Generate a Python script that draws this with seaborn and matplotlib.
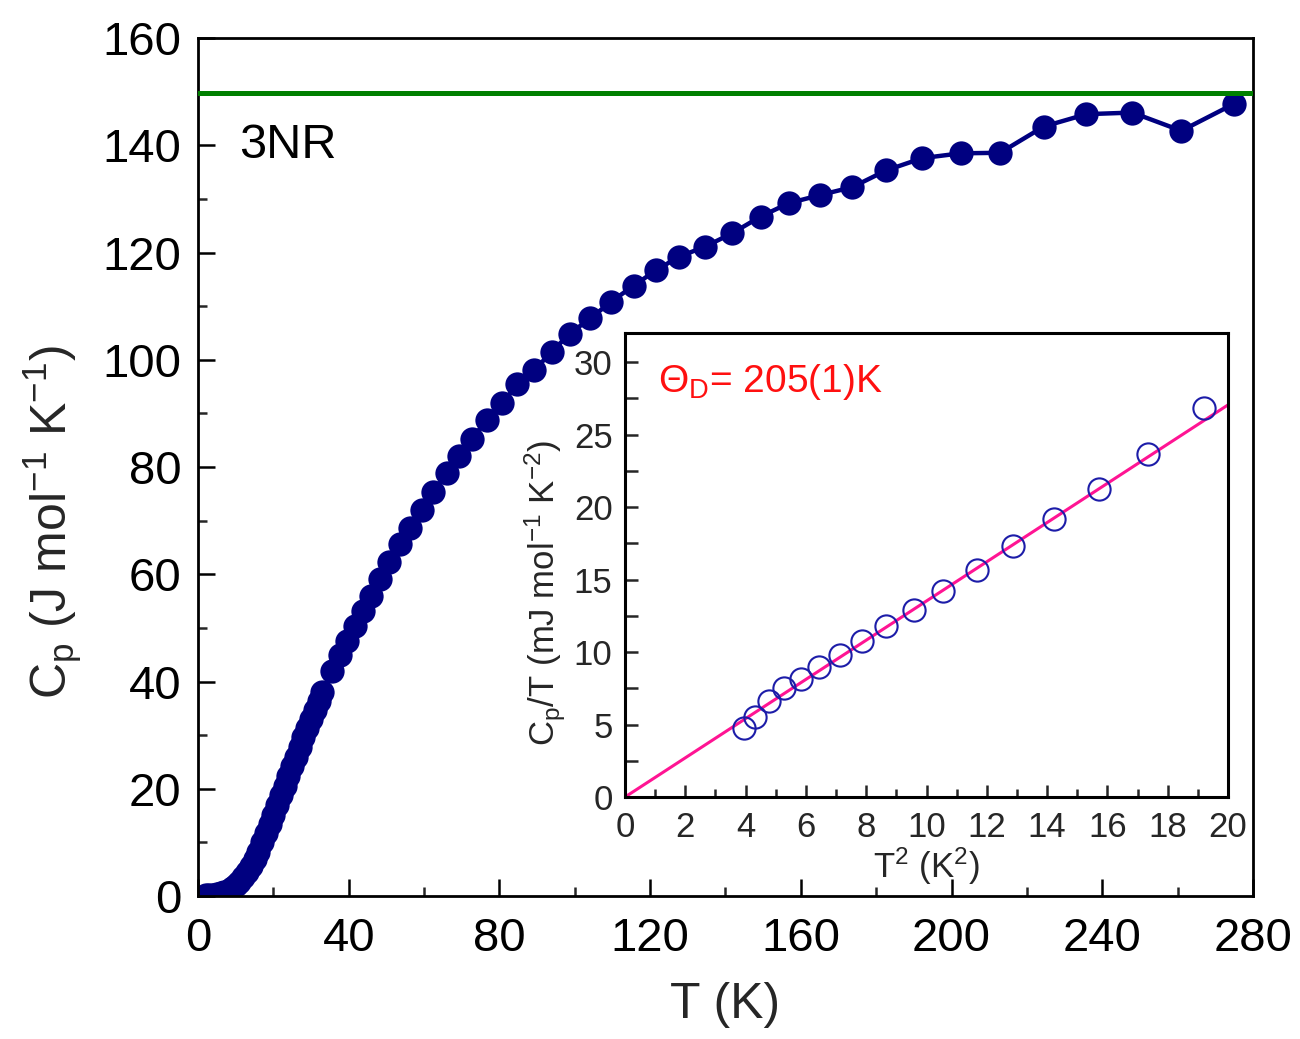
import numpy as np
import pandas as pd
import matplotlib
matplotlib.use("Agg")
import matplotlib.pyplot as plt
from matplotlib.ticker import MultipleLocator
import seaborn as sns

# Specific heat of the compound, Cp(T)
temp_K = [2, 3, 4, 5, 6, 7, 8, 9, 10, 11, 12, 13, 14, 15, 16, 17, 18, 19, 20,
          21, 22, 23, 24, 25, 26, 27, 28, 29, 30, 31, 32, 33,
          35.7, 37.7, 39.6, 41.7, 43.7, 45.9, 48.3, 50.8, 53.6, 56.3, 59.4,
          62.5, 66.0, 69.3, 72.8, 76.6, 80.8, 84.8, 89.3, 93.9, 98.7, 104.1,
          109.6, 115.6, 121.6, 127.6, 134.6, 141.8, 149.3, 156.8, 165.0, 173.7,
          182.6, 192.2, 202.4, 212.9, 224.5, 235.8, 248.0, 261.0, 274.9]
cp_J = [0.1, 0.1, 0.2, 0.3, 0.5, 0.7, 1.0, 1.5, 2.0, 2.7, 3.5, 4.5, 5.6, 6.9,
        8.3, 10.0, 11.8, 13.5, 15.2, 17.0, 18.8, 20.6, 22.4, 24.2, 26.0, 27.8,
        29.6, 31.3, 33.0, 34.7, 36.4, 38.0,
        42.0, 45.0, 47.6, 50.4, 53.1, 56.0, 59.1, 62.3, 65.6, 68.7, 72.0,
        75.4, 78.8, 82.0, 85.3, 88.8, 92.0, 95.4, 98.1, 101.5, 104.9, 107.7,
        110.8, 113.8, 116.7, 119.2, 121.1, 123.6, 126.7, 129.2, 130.7, 132.2,
        135.3, 137.6, 138.5, 138.6, 143.5, 145.8, 146.1, 142.7, 147.7]

# Dulong-Petit limit 3NR
three_nr = 149.7

# Low-temperature Cp/T versus T^2
t_squared = [3.95, 4.30, 4.76, 5.26, 5.83, 6.44, 7.13, 7.85, 8.65, 9.57,
             10.54, 11.67, 12.87, 14.24, 15.72, 17.35, 19.19]
cp_over_t = [4.75, 5.51, 6.65, 7.50, 8.11, 8.98, 9.78, 10.76, 11.79, 12.93,
             14.24, 15.65, 17.32, 19.15, 21.27, 23.67, 26.81]

# Linear fit Cp/T = gamma + beta*T^2
fit_gamma = 0.0
fit_beta = 1.352
fit_range = [0, 20]

sns.set_theme(style="ticks")
plt.rcParams["font.family"] = ["Liberation Sans", "DejaVu Sans"]
plt.rcParams["mathtext.fontset"] = "custom"
plt.rcParams["mathtext.rm"] = "Liberation Sans"
plt.rcParams["mathtext.it"] = "Liberation Sans:italic"
plt.rcParams["mathtext.default"] = "regular"
plt.rcParams["axes.linewidth"] = 2.0
plt.rcParams["axes.edgecolor"] = "black"

NAVY = "#000080"
GREEN = "#008000"
OPEN_BLUE = "#1c1ca8"
FIT = "#ff1493"

fig = plt.figure(figsize=(13, 10.39), dpi=100)
ax = fig.add_axes([0.1523, 0.1376, 0.8115, 0.8258])

main_df = pd.DataFrame({"T": temp_K, "Cp": cp_J})
sns.lineplot(data=main_df, x="T", y="Cp", ax=ax, color=NAVY, lw=3.2,
             marker="o", markersize=17.5, markeredgewidth=0,
             markerfacecolor=NAVY, estimator=None, sort=True)
ax.axhline(three_nr, color=GREEN, lw=3.6, zorder=3)

ax.set_xlim(0, 280)
ax.set_ylim(0, 160)
ax.xaxis.set_major_locator(MultipleLocator(40))
ax.xaxis.set_minor_locator(MultipleLocator(20))
ax.yaxis.set_major_locator(MultipleLocator(20))
ax.yaxis.set_minor_locator(MultipleLocator(10))
ax.tick_params(which="major", direction="in", length=12, width=1.8,
               labelsize=34, pad=12, top=False, right=False, colors="black")
ax.tick_params(which="minor", direction="in", length=6.5, width=1.8,
               top=False, right=False)
ax.tick_params(axis="x", which="major", pad=15)
for s in ax.spines.values():
    s.set_visible(True)
    s.set_linewidth(2.0)

ax.set_xlabel("T (K)", fontsize=36)
ax.set_ylabel("C$_p$ (J mol$^{-1}$ K$^{-1}$)", fontsize=36)
ax.xaxis.set_label_coords(0.5, -0.10)
ax.yaxis.set_label_coords(-0.108, 0.436)
ax.text(11, 140, "3NR", fontsize=35, ha="left", va="center", color="black")

# Inset: Cp/T vs T^2
axin = fig.add_axes([0.4808, 0.2329, 0.4638, 0.4466])
axin.set_facecolor("white")
inset_df = pd.DataFrame({"T2": t_squared, "CpT": cp_over_t})
fit_df = pd.DataFrame({"T2": fit_range,
                       "CpT": [fit_gamma + fit_beta * v for v in fit_range]})
sns.lineplot(data=fit_df, x="T2", y="CpT", ax=axin, color=FIT, lw=2.2,
             estimator=None)
sns.lineplot(data=inset_df, x="T2", y="CpT", ax=axin, linestyle="none",
             marker="o", markersize=16, markerfacecolor="none",
             markeredgecolor=OPEN_BLUE, markeredgewidth=1.5, estimator=None)
axin.set_xlim(0, 20)
axin.set_ylim(0, 32)
axin.xaxis.set_major_locator(MultipleLocator(2))
axin.xaxis.set_minor_locator(MultipleLocator(1))
axin.yaxis.set_major_locator(MultipleLocator(5))
axin.yaxis.set_minor_locator(MultipleLocator(2.5))
axin.tick_params(which="major", direction="in", length=9, width=1.8,
                 labelsize=25, pad=9, top=False, right=False)
axin.tick_params(which="minor", direction="in", length=5.5, width=1.8,
                 top=False, right=False)
axin.tick_params(axis="y", which="minor", length=9)
axin.tick_params(axis="x", which="major", pad=10)
for s in axin.spines.values():
    s.set_visible(True)
    s.set_linewidth(2.2)
axin.set_xlabel("T$^2$ (K$^2$)", fontsize=25, labelpad=0)
axin.set_ylabel("C$_p$/T (mJ mol$^{-1}$ K$^{-2}$)", fontsize=25)
axin.xaxis.set_label_coords(0.5, -0.105)
axin.yaxis.set_label_coords(-0.095, 0.44)
axin.text(1.1, 28.6, r"$\Theta_D$= 205(1)K", fontsize=28, color="#ff1010",
          ha="left", va="center")

fig.savefig("out.png", dpi=100)
